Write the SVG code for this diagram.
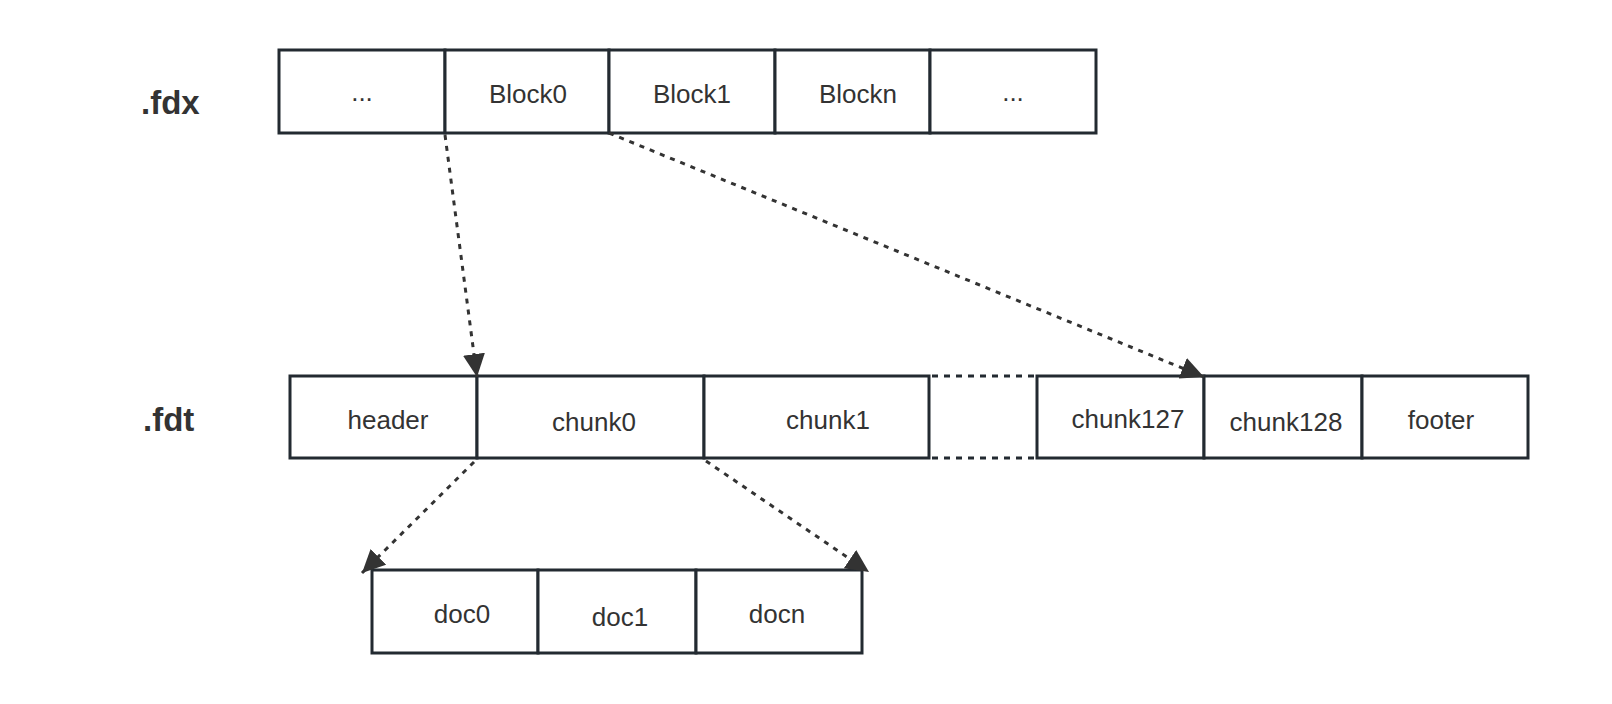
<svg xmlns="http://www.w3.org/2000/svg" width="1612" height="704" viewBox="0 0 1612 704">
  <style>
    .cell { fill: #ffffff; stroke: #232a31; stroke-width: 3; }
    .t { font-family: "Liberation Sans", Arial, sans-serif; font-size: 26px; fill: #333333; text-anchor: middle; }
    .lbl { font-family: "Liberation Sans", Arial, sans-serif; font-size: 33px; font-weight: bold; fill: #333333; }
    .dash { fill: none; stroke: #333333; stroke-width: 3; stroke-dasharray: 5 6; }
    .gap { fill: none; stroke: #232a31; stroke-width: 3; stroke-dasharray: 6 6; }
  </style>
  <defs>
    <marker id="arr" markerUnits="userSpaceOnUse" markerWidth="26" markerHeight="24" refX="23" refY="11" orient="auto">
      <path d="M0,0 L23,11 L0,22 Z" fill="#333333"/>
    </marker>
  </defs>
  <rect width="1612" height="704" fill="#ffffff"/>

  <g id="label-fdx"><text class="lbl" x="141" y="114">.fdx</text></g>
  <g id="label-fdt"><text class="lbl" x="143" y="431">.fdt</text></g>

  <g id="fdx-row">
    <g id="fdx-dots1"><rect class="cell" x="279" y="50" width="166" height="83"/><text class="t" x="362" y="101">...</text></g>
    <g id="block0"><rect class="cell" x="445" y="50" width="164" height="83"/><text class="t" x="528" y="103">Block0</text></g>
    <g id="block1"><rect class="cell" x="609" y="50" width="166" height="83"/><text class="t" x="692" y="103">Block1</text></g>
    <g id="blockn"><rect class="cell" x="775" y="50" width="155" height="83"/><text class="t" x="858" y="103">Blockn</text></g>
    <g id="fdx-dots2"><rect class="cell" x="930" y="50" width="166" height="83"/><text class="t" x="1013" y="101">...</text></g>
  </g>

  <g id="fdt-row">
    <g id="header"><rect class="cell" x="290" y="376" width="187" height="82"/><text class="t" x="388" y="429">header</text></g>
    <g id="chunk0"><rect class="cell" x="477" y="376" width="227" height="82"/><text class="t" x="594" y="431">chunk0</text></g>
    <g id="chunk1"><rect class="cell" x="704" y="376" width="225" height="82"/><text class="t" x="828" y="429">chunk1</text></g>
    <g id="gap-dotted">
      <line class="gap" x1="932" y1="376" x2="1037" y2="376"/>
      <line class="gap" x1="932" y1="458" x2="1037" y2="458"/>
    </g>
    <g id="chunk127"><rect class="cell" x="1037" y="376" width="167" height="82"/><text class="t" x="1128" y="428">chunk127</text></g>
    <g id="chunk128"><rect class="cell" x="1204" y="376" width="158" height="82"/><text class="t" x="1286" y="431">chunk128</text></g>
    <g id="footer"><rect class="cell" x="1362" y="376" width="166" height="82"/><text class="t" x="1441" y="429">footer</text></g>
  </g>

  <g id="doc-row">
    <g id="doc0"><rect class="cell" x="372" y="570" width="166" height="83"/><text class="t" x="462" y="623">doc0</text></g>
    <g id="doc1"><rect class="cell" x="538" y="570" width="158" height="83"/><text class="t" x="620" y="626">doc1</text></g>
    <g id="docn"><rect class="cell" x="696" y="570" width="166" height="83"/><text class="t" x="777" y="623">docn</text></g>
  </g>

  <g id="connectors">
    <line class="dash" x1="445" y1="135" x2="477" y2="377" marker-end="url(#arr)"/>
    <line class="dash" x1="609" y1="133" x2="1204" y2="377" marker-end="url(#arr)"/>
    <line class="dash" x1="474" y1="462" x2="362" y2="573" marker-end="url(#arr)"/>
    <line class="dash" x1="706" y1="461" x2="869" y2="572" marker-end="url(#arr)"/>
  </g>
</svg>
